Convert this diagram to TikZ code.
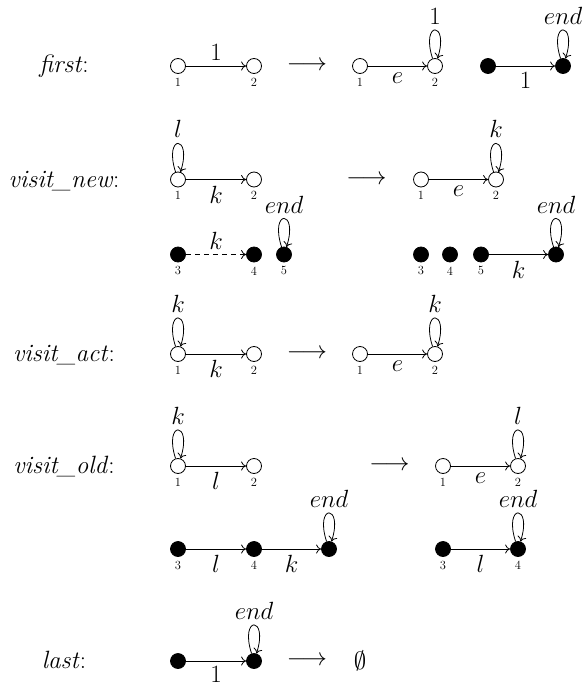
\documentclass[tikz,border=0pt]{standalone}
\usetikzlibrary{arrows.meta}
\newcommand{\bigf}{\fontsize{25}{30}\selectfont}
\newcommand{\smallf}{\fontsize{12.5}{14}\selectfont}
\tikzset{
  wn/.style={circle, draw, fill=white, minimum size=15pt, inner sep=0pt, line width=0.8pt},
  bn/.style={wn, fill=black},
  num/.style={font=\smallf, inner sep=0pt, label distance=4pt},
  txt/.style={font=\bigf, inner sep=0pt},
  arr/.style={line width=0.8pt, -{Computer Modern Rightarrow[length=5pt,width=9pt]}},
  selfloop/.style={arr, out=108, in=72, min distance=40pt},
  looplab/.style={txt, anchor=base, yshift=41.5pt},
  rowlab/.style={txt, anchor=base},
}
\begin{document}
\begin{tikzpicture}[x=1pt,y=-1pt]
\useasboundingbox (0,0) rectangle (584,687);

% ---------- first ----------
\node[rowlab] (t1) at (64,73) {\textit{first}:};
\node[wn, label={[num,name=f1n]below:1}] (f1) at (178,66) {};
\node[wn, label={[num,name=f2n]below:2}] (f2) at (254,66) {};
\draw[arr] (f1) -- node[txt, above=5pt] (f12) {$1$} (f2);
\node[txt] (fa) at (307,66) {$\longrightarrow$};
\node[wn, label={[num,name=g1n]below:1}] (g1) at (360,66) {};
\node[wn, label={[num,name=g2n]below:2}] (g2) at (435,66) {};
\draw[arr] (g1) -- node[txt, below=6pt] (g12) {$e$} (g2);
\draw[selfloop] (g2) to (g2);
\node[looplab] (g2l) at (g2.center) {$1$};
\node[bn] (gb1) at (488,66) {};
\node[bn] (gb2) at (563,66) {};
\draw[arr] (gb1) -- node[txt, below=6pt] (gb12) {$1$} (gb2);
\draw[selfloop] (gb2) to (gb2);
\node[looplab] (gb2l) at (gb2.center) {$end$};

% ---------- visit_new ----------
\node[rowlab] (t2) at (64,187) {\textit{visit\_new}:};
\node[wn, label={[num,name=n1n]below:1}] (n1) at (178,179.5) {};
\node[wn, label={[num,name=n2n]below:2}] (n2) at (254,179.5) {};
\draw[arr] (n1) -- node[txt, below=6pt] (n12) {$k$} (n2);
\draw[selfloop] (n1) to (n1);
\node[looplab] (n1l) at (n1.center) {$l$};
\node[bn, label={[num,name=n3n]below:3}] (n3) at (178,254.5) {};
\node[bn, label={[num,name=n4n]below:4}] (n4) at (254,254.5) {};
\node[bn, label={[num,name=n5n]below:5}] (n5) at (284,254.5) {};
\draw[arr, dash pattern=on 5pt off 4pt] (n3) -- node[txt, above=5pt] (n34) {$k$} (n4);
\draw[selfloop] (n5) to (n5);
\node[looplab] (n5l) at (n5.center) {$end$};
\node[txt] (na) at (366.5,179.5) {$\longrightarrow$};
\node[wn, label={[num,name=m1n]below:1}] (m1) at (421,179.5) {};
\node[wn, label={[num,name=m2n]below:2}] (m2) at (496,179.5) {};
\draw[arr] (m1) -- node[txt, below=6pt] (m12) {$e$} (m2);
\draw[selfloop] (m2) to (m2);
\node[looplab] (m2l) at (m2.center) {$k$};
\node[bn, label={[num,name=m3n]below:3}] (m3) at (421,254.5) {};
\node[bn, label={[num,name=m4n]below:4}] (m4) at (450,254.5) {};
\node[bn, label={[num,name=m5n]below:5}] (m5) at (481,254.5) {};
\node[bn] (m6) at (556,254.5) {};
\draw[arr] (m5) -- node[txt, below=6pt] (m56) {$k$} (m6);
\draw[selfloop] (m6) to (m6);
\node[looplab] (m6l) at (m6.center) {$end$};

% ---------- visit_act ----------
\node[rowlab] (t3) at (64,361) {\textit{visit\_act}:};
\node[wn, label={[num,name=p1n]below:1}] (p1) at (178,354) {};
\node[wn, label={[num,name=p2n]below:2}] (p2) at (254,354) {};
\draw[arr] (p1) -- node[txt, below=6pt] (p12) {$k$} (p2);
\draw[selfloop] (p1) to (p1);
\node[looplab] (p1l) at (p1.center) {$k$};
\node[txt] (pa) at (307,354) {$\longrightarrow$};
\node[wn, label={[num,name=q1n]below:1}] (q1) at (360,354) {};
\node[wn, label={[num,name=q2n]below:2}] (q2) at (435,354) {};
\draw[arr] (q1) -- node[txt, below=6pt] (q12) {$e$} (q2);
\draw[selfloop] (q2) to (q2);
\node[looplab] (q2l) at (q2.center) {$k$};

% ---------- visit_old ----------
\node[rowlab] (t4) at (64,473) {\textit{visit\_old}:};
\node[wn, label={[num,name=r1n]below:1}] (r1) at (178,466) {};
\node[wn, label={[num,name=r2n]below:2}] (r2) at (254,466) {};
\draw[arr] (r1) -- node[txt, below=6pt] (r12) {$l$} (r2);
\draw[selfloop] (r1) to (r1);
\node[looplab] (r1l) at (r1.center) {$k$};
\node[bn, label={[num,name=r3n]below:3}] (r3) at (178,549) {};
\node[bn, label={[num,name=r4n]below:4}] (r4) at (254,549) {};
\node[bn] (r5) at (329,549) {};
\draw[arr] (r3) -- node[txt, below=6pt] (r34) {$l$} (r4);
\draw[arr] (r4) -- node[txt, below=6pt] (r45) {$k$} (r5);
\draw[selfloop] (r5) to (r5);
\node[looplab] (r5l) at (r5.center) {$end$};
\node[txt] (ra) at (389.5,466) {$\longrightarrow$};
\node[wn, label={[num,name=s1n]below:1}] (s1) at (443,466) {};
\node[wn, label={[num,name=s2n]below:2}] (s2) at (518,466) {};
\draw[arr] (s1) -- node[txt, below=6pt] (s12) {$e$} (s2);
\draw[selfloop] (s2) to (s2);
\node[looplab] (s2l) at (s2.center) {$l$};
\node[bn, label={[num,name=s3n]below:3}] (s3) at (443,549) {};
\node[bn, label={[num,name=s4n]below:4}] (s4) at (518,549) {};
\draw[arr] (s3) -- node[txt, below=6pt] (s34) {$l$} (s4);
\draw[selfloop] (s4) to (s4);
\node[looplab] (s4l) at (s4.center) {$end$};

% ---------- last ----------
\node[rowlab] (t5) at (64,668) {\textit{last}:};
\node[bn] (u1) at (178,661) {};
\node[bn] (u2) at (254,661) {};
\draw[arr] (u1) -- node[txt, below=5pt] (u12) {$1$} (u2);
\draw[selfloop] (u2) to (u2);
\node[looplab] (u2l) at (u2.center) {$end$};
\node[txt] (ua) at (307,661) {$\longrightarrow$};
\node[txt] (u0) at (360,661) {$\emptyset$};
\end{tikzpicture}
\end{document}
